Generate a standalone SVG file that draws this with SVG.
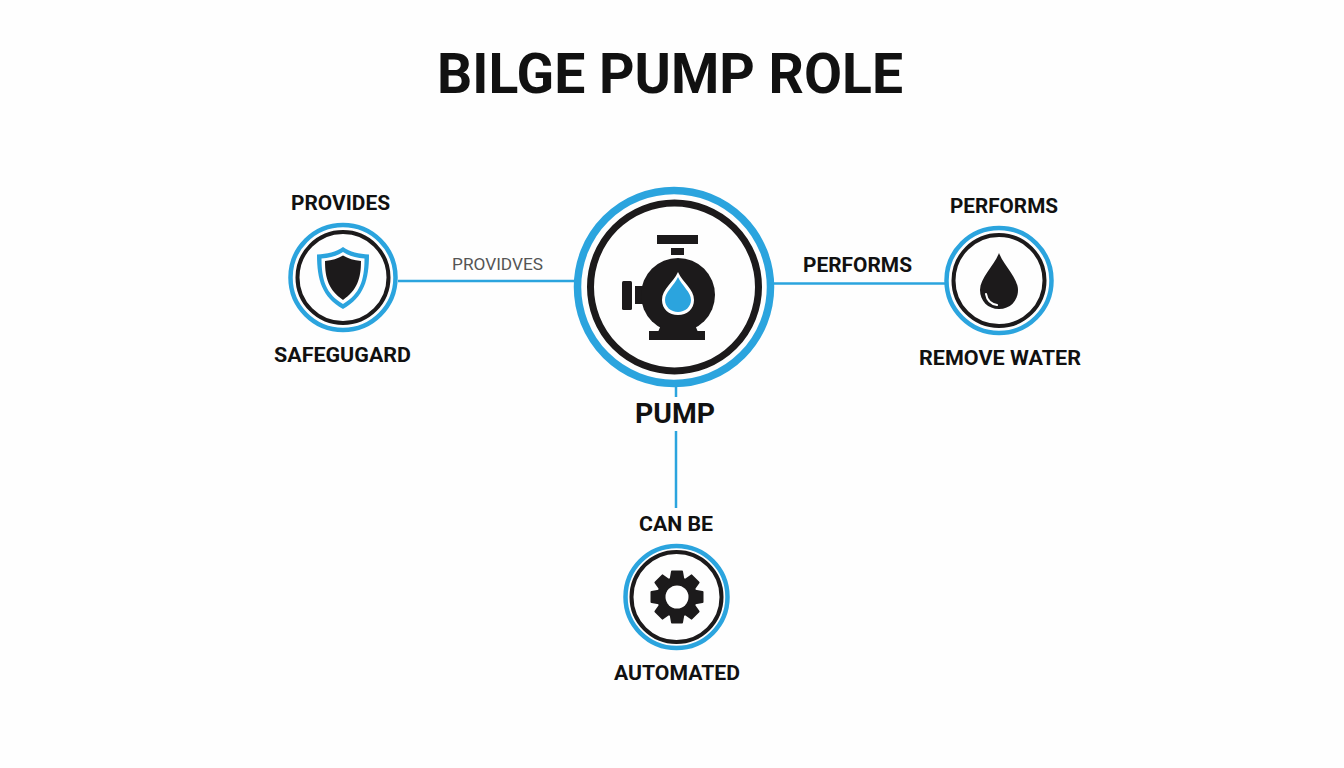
<svg xmlns="http://www.w3.org/2000/svg" width="1344" height="768" viewBox="0 0 1344 768">
<style>
text{font-family:Roboto,"Liberation Sans",sans-serif;font-weight:700;fill:#111;text-anchor:middle}
.t{font-size:20.500px}
.c{fill:none;stroke:#2ba4de}
.k{fill:none;stroke:#1c1a1b}
.ink{fill:#1c1a1b}
.blue{fill:#2ba4de}
#connectors line{stroke:#2ba4de;stroke-width:2.5}
</style>
<defs>
<path id="tooth" d="M669.500 580L671 571.500Q671 570.500 672 570.500L682 570.500Q683 570.500 683 571.500L684.500 580Z"/>
</defs>
<rect width="1344" height="768" fill="#fefefe"/>
<text id="title" x="670" y="93" style="font-size:55px" textLength="466" lengthAdjust="spacingAndGlyphs">BILGE PUMP ROLE</text>
<g id="connectors">
<line x1="398" y1="281" x2="576" y2="281"/>
<line x1="773" y1="283.5" x2="946" y2="283.5"/>
<line x1="676" y1="386" x2="676" y2="397"/>
<line x1="676" y1="431" x2="676" y2="508"/>
</g>
<text x="497.500" y="270" style="font-size:17px;font-weight:400;fill:#555" textLength="91" lengthAdjust="spacingAndGlyphs">PROVIDVES</text>
<text x="857.500" y="272" class="t" textLength="109" lengthAdjust="spacingAndGlyphs">PERFORMS</text>
<g id="pump">
<circle cx="674" cy="287" r="96.500" fill="#fff" class="c" stroke-width="7.500"/>
<circle cx="674.500" cy="287" r="84" class="k" stroke-width="7"/>
<rect x="657" y="235" width="41" height="9" class="ink"/>
<rect x="671" y="248" width="13" height="7" class="ink"/>
<rect x="622" y="281" width="10" height="29" rx="1.500" class="ink"/>
<rect x="635" y="286" width="12" height="18" class="ink"/>
<circle cx="678" cy="295" r="37" class="ink"/>
<path d="M661 325L695 325L698 332L658 332Z" class="ink"/>
<rect x="649" y="331" width="56" height="9" class="ink"/>
<path d="M678 272C683 283 694 289 694 300C694 309 687 315 678 315C669 315 662 309 662 300C662 289 673 283 678 272Z" fill="#fff"/>
<path d="M678 277C682 286 691 292 691 300C691 307 685 312 678 312C671 312 665 307 665 300C665 292 674 286 678 277Z" class="blue"/>
<text x="675" y="423" style="font-size:27.500px" textLength="80" lengthAdjust="spacingAndGlyphs">PUMP</text>
</g>
<g id="safeguard">
<circle cx="343" cy="277.500" r="52.500" fill="#fff" class="c" stroke-width="4.500"/>
<circle cx="343" cy="277.500" r="45.500" class="k" stroke-width="4"/>
<path d="M343 247C350 252 359 254 369 254.500C369 280 364 297 343 309C322 297 317 280 317 254.500C327 254 336 252 343 247Z" class="blue"/>
<path d="M343 252C349 256 356 258 364.500 258.500C364.500 280 360 294 343 304C326 294 321.500 280 321.500 258.500C330 258 337 256 343 252Z" fill="#fff"/>
<path d="M343 255.500C348 258.500 354 260.500 361 261C361 279 357 290 343 300C329 290 325 279 325 261C332 260.500 338 258.500 343 255.500Z" class="ink"/>
<text x="340.500" y="210" class="t" textLength="99" lengthAdjust="spacingAndGlyphs">PROVIDES</text>
<text x="342.500" y="362" class="t" textLength="137" lengthAdjust="spacingAndGlyphs">SAFEGUGARD</text>
</g>
<g id="remove-water">
<circle cx="999" cy="280.500" r="52.500" fill="#fff" class="c" stroke-width="4.500"/>
<circle cx="999" cy="280.500" r="45.500" class="k" stroke-width="4"/>
<path d="M999 253C1004 266 1018 278 1018 290C1018 301 1010 309 999 309C988 309 980 301 980 290C980 278 994 266 999 253Z" class="ink"/>
<path d="M986 294C987 300 991 304 997 305" fill="none" stroke="#fff" stroke-width="2" stroke-linecap="round"/>
<text x="1004" y="213" class="t" textLength="108" lengthAdjust="spacingAndGlyphs">PERFORMS</text>
<text x="1000" y="365" class="t" textLength="162" lengthAdjust="spacingAndGlyphs">REMOVE WATER</text>
</g>
<g id="automated">
<circle cx="676.500" cy="597" r="51" fill="#fff" class="c" stroke-width="4.500"/>
<circle cx="676.500" cy="597" r="45" class="k" stroke-width="4"/>
<g class="ink">
<circle cx="677" cy="597" r="20"/>
<use href="#tooth"/>
<use href="#tooth" transform="rotate(45 677 597)"/>
<use href="#tooth" transform="rotate(90 677 597)"/>
<use href="#tooth" transform="rotate(135 677 597)"/>
<use href="#tooth" transform="rotate(180 677 597)"/>
<use href="#tooth" transform="rotate(225 677 597)"/>
<use href="#tooth" transform="rotate(270 677 597)"/>
<use href="#tooth" transform="rotate(315 677 597)"/>
</g>
<circle cx="677" cy="597" r="11.500" fill="#fff"/>
<text x="676" y="531" class="t" textLength="74" lengthAdjust="spacingAndGlyphs">CAN BE</text>
<text x="677" y="680" class="t" textLength="126" lengthAdjust="spacingAndGlyphs">AUTOMATED</text>
</g>
</svg>
